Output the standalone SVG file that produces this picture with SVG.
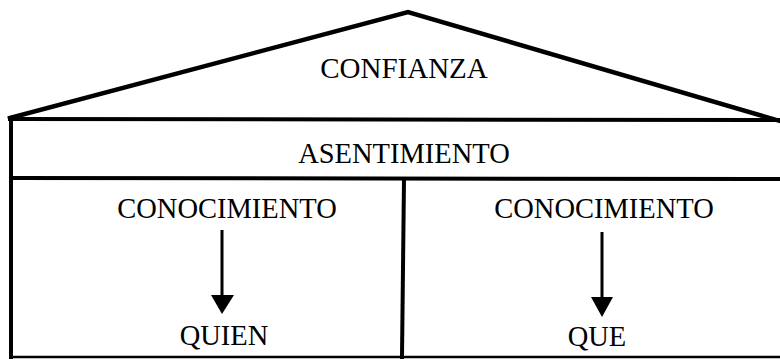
<svg xmlns="http://www.w3.org/2000/svg" width="780" height="360" viewBox="0 0 780 360">
  <style>
    .t { font-family: "Liberation Serif", "Times New Roman", serif; font-size: 28.5px; fill: #000; text-anchor: middle; }
    .ln { stroke: #000; fill: none; stroke-linecap: square; }
  </style>
  <rect width="780" height="360" fill="#fff"/>
  <g id="roof">
    <polyline class="ln" points="10,118 408,12 780,121" stroke-width="4.5" stroke-linejoin="miter"/>
    <text class="t" x="404" y="78" style="font-size:29px">CONFIANZA</text>
  </g>
  <g id="asentimiento">
    <line class="ln" x1="10" y1="119" x2="780" y2="120" stroke-width="4"/>
    <text class="t" x="404" y="163">ASENTIMIENTO</text>
  </g>
  <g id="frame">
    <line class="ln" x1="11" y1="118" x2="11" y2="357" stroke-width="4"/>
    <line class="ln" x1="11" y1="178" x2="780" y2="179" stroke-width="4"/>
    <line class="ln" x1="11" y1="357" x2="780" y2="357" stroke-width="2.5"/>
    <line class="ln" x1="404" y1="179" x2="402" y2="357" stroke-width="4"/>
  </g>
  <g id="conocimiento-quien">
    <text class="t" x="227" y="218">CONOCIMIENTO</text>
    <text class="t" x="224" y="345">QUIEN</text>
  </g>
  <g id="conocimiento-que">
    <text class="t" x="604" y="218">CONOCIMIENTO</text>
    <text class="t" x="597" y="346">QUE</text>
  </g>
  <g id="connectors">
    <line x1="222" y1="230" x2="222" y2="297" stroke="#000" stroke-width="3"/>
    <polygon points="211,295 234,295 222,314" fill="#000"/>
    <line x1="602" y1="232" x2="602" y2="299" stroke="#000" stroke-width="3"/>
    <polygon points="591,297 613,297 602,317" fill="#000"/>
  </g>
</svg>
